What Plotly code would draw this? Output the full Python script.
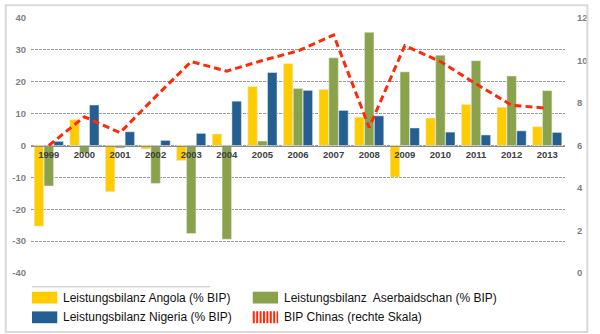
import plotly.graph_objects as go

years = ["1999", "2000", "2001", "2002", "2003", "2004", "2005", "2006",
         "2007", "2008", "2009", "2010", "2011", "2012", "2013"]
angola = [-25.3, 8.1, -14.5, -1.1, -4.7, 3.6, 18.5, 25.7, 17.6, 8.9, -9.9, 8.6, 12.9, 12.0, 5.9]
aserbaidschan = [-12.7, -2.4, -0.8, -11.9, -27.6, -29.4, 1.4, 17.9, 27.5, 35.5, 23.1, 28.3, 26.6, 21.8, 17.2]
nigeria = [1.3, 12.7, 4.3, 1.6, 3.8, 13.9, 22.9, 17.3, 11.0, 9.3, 5.5, 4.2, 3.3, 4.6, 4.1]
bip_china = [6.0, 7.35, 6.6, 8.3, 9.95, 9.5, 10.0, 10.45, 11.2, 6.85, 10.7, 9.95, 8.9, 7.9, 7.75]

left_ticks = [-40, -30, -20, -10, 0, 10, 20, 30, 40]
right_ticks = [0, 2, 4, 6, 8, 10, 12]

legend_labels = ["Leistungsbilanz Angola (% BIP)", "Leistungsbilanz  Aserbaidschan (% BIP)",
                 "Leistungsbilanz Nigeria (% BIP)", "BIP Chinas (rechte Skala)"]

C_ANG = "#FFCC00"
C_ASE = "#8BA24C"
C_NIG = "#255E91"
C_RED = "#FF2A0A"
FONT = "Arial, Liberation Sans, sans-serif"

fig = go.Figure()
fig.add_trace(go.Bar(x=years, y=angola, name=legend_labels[0], marker_color=C_ANG))
fig.add_trace(go.Bar(x=years, y=aserbaidschan, name=legend_labels[1], marker_color=C_ASE))
fig.add_trace(go.Bar(x=years, y=nigeria, name=legend_labels[2], marker_color=C_NIG))
fig.add_trace(go.Scatter(x=years, y=bip_china, name=legend_labels[3], yaxis="y2",
                         mode="lines", line=dict(color=C_RED, width=3, dash="7px,4px")))

L, R, T, B = 27, 24, 14, 61
W, H = 600, 334
PW, PH = W - L - R, H - T - B

def px(x):
    return (x - L) / PW

def py(y):
    return (H - B - y) / PH

shapes = []
# outer border
shapes.append(dict(type="rect", xref="paper", yref="paper",
                   x0=px(1), x1=px(599), y0=py(333), y1=py(1),
                   line=dict(color="#D9D9D9", width=2), fillcolor="rgba(0,0,0,0)", layer="above"))
# separator line under plot
shapes.append(dict(type="line", xref="paper", yref="paper",
                   x0=px(28), x1=px(211), y0=py(287), y1=py(287),
                   line=dict(color="#BFBFBF", width=1)))

annotations = []
items = [
    (28, 298, C_ANG, legend_labels[0], "bar"),
    (255, 298, C_ASE, legend_labels[1], "bar"),
    (28, 318, C_NIG, legend_labels[2], "bar"),
    (255, 318, C_RED, legend_labels[3], "dash"),
]
for x0, yc, col, txt, kind in items:
    if kind == "bar":
        shapes.append(dict(type="rect", xref="paper", yref="paper",
                           x0=px(x0), x1=px(x0 + 26), y0=py(yc + 6), y1=py(yc - 6),
                           fillcolor=col, line=dict(width=0)))
    else:
        shapes.append(dict(type="line", xref="paper", yref="paper",
                           x0=px(x0), x1=px(x0 + 26), y0=py(yc), y1=py(yc),
                           line=dict(color=col, width=12, dash="2px,1.4px")))
    annotations.append(dict(xref="paper", yref="paper", x=px(x0 + 30), y=py(yc),
                            xanchor="left", yanchor="middle", showarrow=False,
                            text=txt, font=dict(family=FONT, size=12, color="#111111")))

tickfont = dict(family=FONT, size=9.5, color="#7F7F7F", weight="bold")

fig.update_layout(
    width=W, height=H,
    margin=dict(l=L, r=R, t=T, b=B),
    paper_bgcolor="white", plot_bgcolor="white",
    barmode="group", bargap=0.17, bargroupgap=0.04,
    showlegend=False,
    shapes=shapes, annotations=annotations,
    xaxis=dict(type="category", anchor="free", position=0.5,
               showline=True, linecolor="#8C8C8C", linewidth=1,
               ticks="", showgrid=False, zeroline=False,
               tickfont=dict(family=FONT, size=9.5, color="#404040", weight="bold")),
    yaxis=dict(range=[-40, 40], tickvals=left_ticks, ticktext=[str(v) for v in left_ticks],
               showgrid=True, gridcolor="#9A9A9A", griddash="3px,1px", gridwidth=1,
               zeroline=False, showline=False, ticks="", ticklabelstandoff=4,
               tickfont=tickfont),
    yaxis2=dict(range=[0, 12], tickvals=right_ticks, overlaying="y", side="right",
                showgrid=False, zeroline=False, showline=False, ticks="", ticklabelstandoff=11,
                tickfont=tickfont),
)

fig.write_html("out.html")
